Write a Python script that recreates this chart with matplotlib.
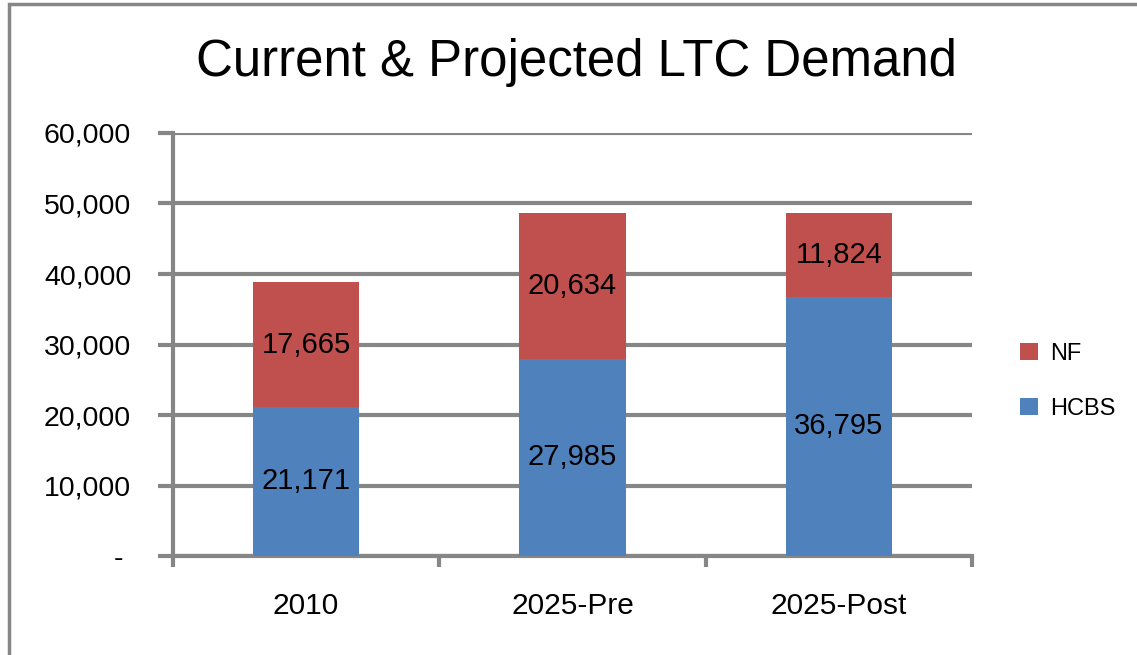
import numpy as np
import matplotlib.pyplot as plt
from matplotlib.patches import Rectangle

# data
categories = ['2010', '2025-Pre', '2025-Post']
hcbs = [21171, 27985, 36795]
nf = [17665, 20634, 11824]
yticks = [0, 10000, 20000, 30000, 40000, 50000, 60000]

blue = '#4f81bd'
red = '#c0504d'
grey = '#868686'

plt.rcParams['font.family'] = ['Liberation Sans', 'DejaVu Sans']

fig = plt.figure(figsize=(11.37, 6.55), dpi=100)
ax = fig.add_axes([0.152, 0.151, 0.703, 0.646])

x = np.arange(len(categories))
b1 = ax.bar(x, hcbs, width=0.4, color=blue, label='HCBS', zorder=3)
b2 = ax.bar(x, nf, width=0.4, bottom=hcbs, color=red, label='NF', zorder=3)

for i in range(len(categories)):
    ax.text(x[i], hcbs[i] / 2, f'{hcbs[i]:,}', ha='center', va='center',
            fontsize=21, zorder=4)
    ax.text(x[i], hcbs[i] + nf[i] / 2, f'{nf[i]:,}', ha='center', va='center',
            fontsize=21, zorder=4)

ax.set_xlim(-0.5, 2.5)
ax.set_ylim(0, 60000)
ax.set_yticks(yticks)
ax.set_yticklabels(['- ' if v == 0 else f'{v:,}' for v in yticks], fontsize=20.5)
ax.tick_params(axis='y', length=11, width=3, color=grey, pad=19)

# category labels centered, ticks at the boundaries
ax.set_xticks([-0.5, 0.5, 1.5, 2.5])
ax.set_xticklabels([])
ax.tick_params(axis='x', length=8, width=3, color=grey)
for i, c in enumerate(categories):
    ax.text(x[i], -0.118, c, transform=ax.get_xaxis_transform(), ha='center',
            va='center', fontsize=21.5)

ax.grid(axis='y', color=grey, linewidth=3, zorder=1)
for s in ['top', 'right']:
    ax.spines[s].set_visible(False)
ax.spines['left'].set_color(grey)
ax.spines['left'].set_linewidth(3)
ax.spines['bottom'].set_color(grey)
ax.spines['bottom'].set_linewidth(3)

fig.text(0.507, 0.905, 'Current & Projected LTC Demand', ha='center',
         va='center', fontsize=36.7)

handles = [b2, b1]
leg = fig.legend(handles, ['NF', 'HCBS'], loc='center left',
                 bbox_to_anchor=(0.878, 0.418), frameon=False, fontsize=17,
                 handlelength=0.78, handleheight=0.78, labelspacing=1.4,
                 handletextpad=0.5)

fig.patches.append(Rectangle((9 / 1137, -0.05), 1.2, 1 - 4 / 655 + 0.05,
                             transform=fig.transFigure, fill=False,
                             edgecolor=grey, linewidth=2.5))

fig.savefig('out.png', dpi=100)
